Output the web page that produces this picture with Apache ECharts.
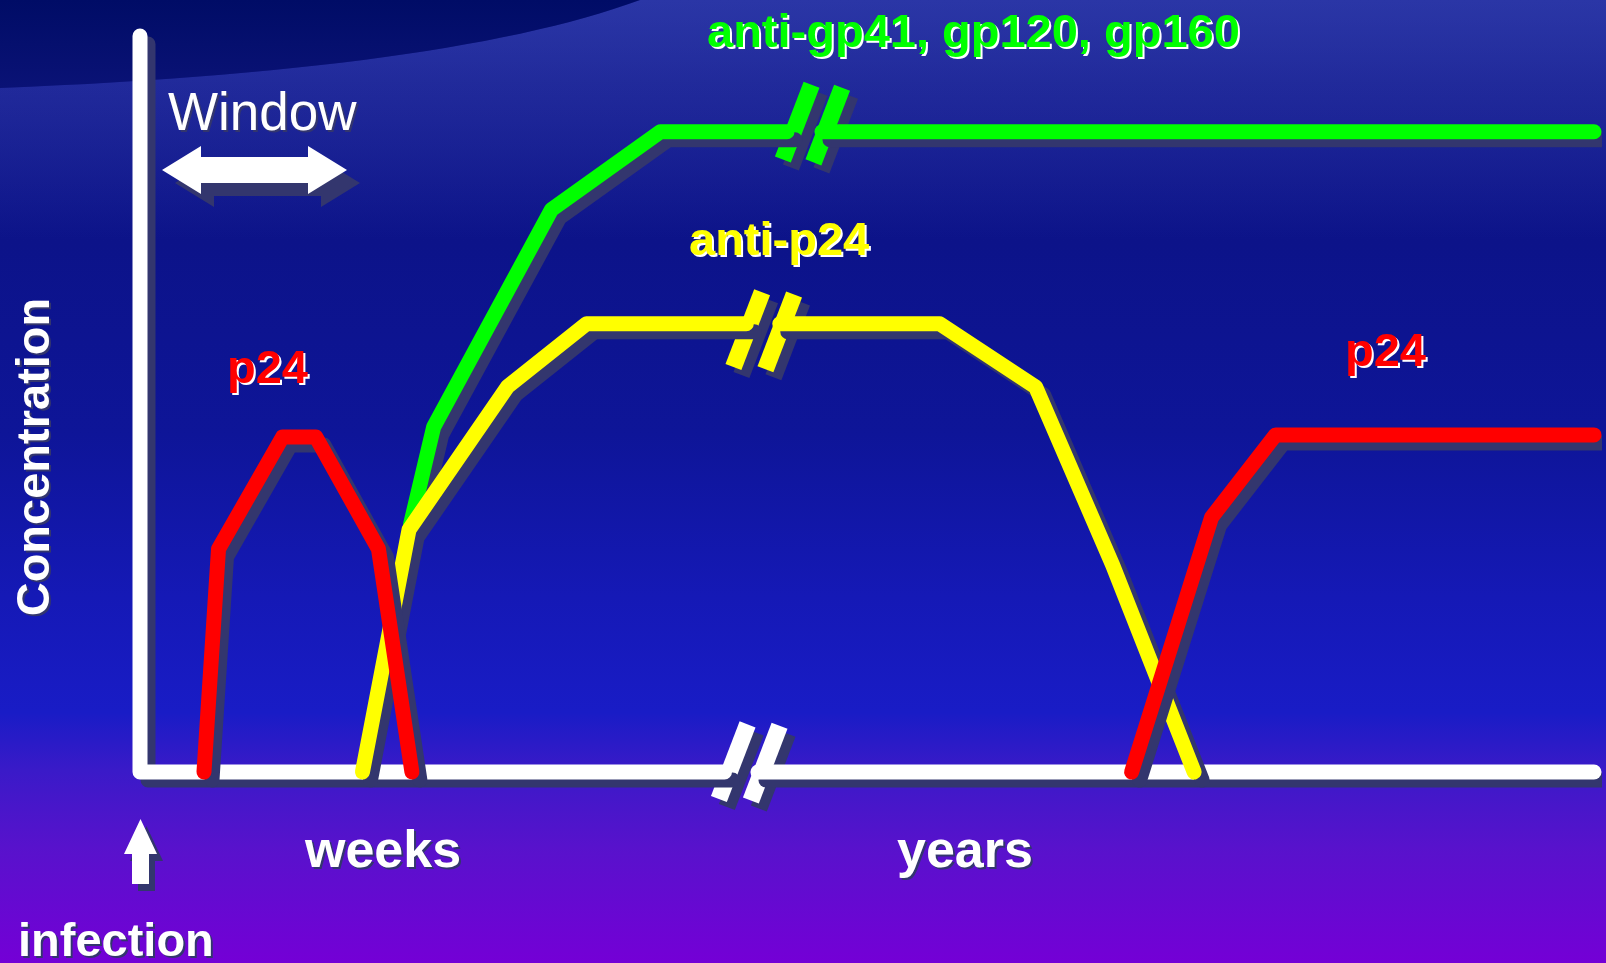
<!DOCTYPE html>
<html><head><meta charset="utf-8">
<script src="https://cdn.jsdelivr.net/npm/echarts@6/dist/echarts.min.js"></script>
<style>html,body{margin:0;padding:0;background:#0c1390;overflow:hidden}#c{width:1606px;height:963px}</style>
</head><body><div id="c"></div>
<script>
// ---- data (arbitrary time units 0..100, concentration units 0..100) ----
const axisLeft = [[0,100],[0,0],[40.2,0]];
const axisRight = [[42.5,0],[100,0]];
const greenBefore = [[18.6,33.6],[20.2,46.9],[28.3,76.4],[35.8,87.0],[44.5,87.0]];
const greenAfter = [[46.9,87.0],[100,87.0]];
const yellowBefore = [[15.3,0],[18.5,32.9],[25.3,52.4],[30.7,60.9],[41.7,60.9]];
const yellowAfter = [[44.0,60.9],[55.0,60.9],[61.6,52.3],[66.9,28.1],[72.5,0]];
const redEarly = [[4.4,0],[5.4,30.3],[9.8,45.5],[12.1,45.5],[16.4,30.3],[18.7,0]];
const redLate = [[68.2,0],[73.7,34.6],[78.1,45.8],[100,45.8]];
const axisBreaks = [[40.8,1.4],[43.0,1.2]];
const greenBreaks = [[45.2,88.3],[47.3,87.9]];
const yellowBreaks = [[41.8,60.1],[44.0,59.8]];
const labelTexts = ['anti-gp41, gp120, gp160','anti-p24','p24','p24','Window','Concentration','weeks','years','infection'];

const SH = '#33366e';
const FONT = '"Liberation Sans", Arial, Helvetica, sans-serif';

function lineSeries(data, color){
  return {type:'line', data, symbol:'none', silent:true, animation:false, clip:false,
    lineStyle:{color, width:15, cap:'round', join:'round', shadowColor:SH, shadowOffsetX:8, shadowOffsetY:8, shadowBlur:0}};
}
function breakSeries(data, color){
  return {type:'scatter', data, symbol:'rect', symbolSize:[17,80], symbolRotate:-21, silent:true, animation:false, clip:false,
    itemStyle:{color, opacity:1, shadowColor:SH, shadowOffsetX:8, shadowOffsetY:8, shadowBlur:0}};
}
function txt(text, x, y, size, fill, shadow, weight, rot){
  const font = (weight||'bold')+' '+size+'px '+FONT;
  const base = {type:'text', rotation: rot||0, silent:true};
  const st = {text, x:0, y:0, font, align: rot?'center':'left', verticalAlign:'middle'};
  return [
    Object.assign({}, base, {x:x+2, y:y+2, z:9, style:Object.assign({}, st, {fill:shadow})}),
    Object.assign({}, base, {x, y, z:10, style:Object.assign({}, st, {fill})})
  ];
}
function quad(p0, c, p1, n){
  const pts = [];
  for (let i = 0; i <= n; i++){
    const t = i/n, a = (1-t)*(1-t), b = 2*(1-t)*t, d = t*t;
    pts.push([a*p0[0]+b*c[0]+d*p1[0], a*p0[1]+b*c[1]+d*p1[1]]);
  }
  return pts;
}
function lin(stops){
  return {type:'linear', x:0, y:0, x2:0, y2:1, colorStops:stops.map(s=>({offset:s[0], color:s[1]}))};
}
const swooshDark = [[0,0]].concat(quad([0,88],[450,70],[640,0],30));
const swooshLight = quad([0,88],[450,70],[640,0],30).concat([[1606,0],[1606,240],[0,240]]);

const chart = echarts.init(document.getElementById('c'), null, {renderer:'canvas'});
chart.setOption({
  animation:false,
  grid:{left:140, right:12, top:36, bottom:191},
  xAxis:{type:'value', min:0, max:100, show:false},
  yAxis:{type:'value', min:0, max:100, show:false},
  graphic:{elements:[
    {type:'rect', z:-10, silent:true, shape:{x:0,y:0,width:1606,height:963},
      style:{fill:lin([[0,'#1f2a96'],[0.1,'#182090'],[0.25,'#0c1389'],[0.45,'#0e1598'],[0.62,'#1519b6'],[0.74,'#191cc6'],[0.8,'#3a1ac8'],[0.88,'#5812cc'],[1,'#7400d6']])}},
    {type:'polygon', z:-9, silent:true, shape:{points:swooshLight},
      style:{fill:lin([[0,'rgba(60,72,190,0.4)'],[0.35,'rgba(60,72,190,0.22)'],[1,'rgba(60,72,190,0)']])}},
    {type:'polygon', z:-8, silent:true, shape:{points:swooshDark},
      style:{fill:lin([[0,'#000c66'],[1,'#0a1276']])}},
    {type:'polygon', z:10, silent:true, shape:{points:[[162,170],[201,146],[201,157],[308,157],[308,146],[347,170],[308,194],[308,183],[201,183],[201,194]]},
      style:{fill:'#ffffff', shadowColor:SH, shadowOffsetX:13, shadowOffsetY:13, shadowBlur:0}},
    {type:'polygon', z:10, silent:true, shape:{points:[[140.5,819],[157,854],[149,854],[149,884],[132,884],[132,854],[124,854]]},
      style:{fill:'#ffffff', shadowColor:SH, shadowOffsetX:6, shadowOffsetY:7, shadowBlur:0}}
  ].concat(
    txt(labelTexts[0], 707, 34, 47, '#00ff00', '#ffffff'),
    txt(labelTexts[1], 689, 242, 47, '#ffff00', '#ffffff'),
    txt(labelTexts[2], 227, 370, 47, '#ff0000', '#ffffff'),
    txt(labelTexts[3], 1345, 353, 47, '#ff0000', '#ffffff'),
    txt(labelTexts[4], 168, 115, 53, '#ffffff', SH, 'normal'),
    txt(labelTexts[5], 36, 457, 47, '#ffffff', SH, 'bold', Math.PI/2),
    txt(labelTexts[6], 305, 853, 52, '#ffffff', SH),
    txt(labelTexts[7], 897, 853, 52, '#ffffff', SH),
    txt(labelTexts[8], 18, 943, 47, '#ffffff', SH)
  )},
  series:[
    lineSeries(axisLeft, '#ffffff'),
    lineSeries(axisRight, '#ffffff'),
    breakSeries(axisBreaks, '#ffffff'),
    lineSeries(greenBefore, '#00ff00'),
    lineSeries(greenAfter, '#00ff00'),
    breakSeries(greenBreaks, '#00ff00'),
    lineSeries(yellowBefore, '#ffff00'),
    lineSeries(yellowAfter, '#ffff00'),
    breakSeries(yellowBreaks, '#ffff00'),
    lineSeries(redEarly, '#ff0000'),
    lineSeries(redLate, '#ff0000')
  ]
});
</script></body></html>
